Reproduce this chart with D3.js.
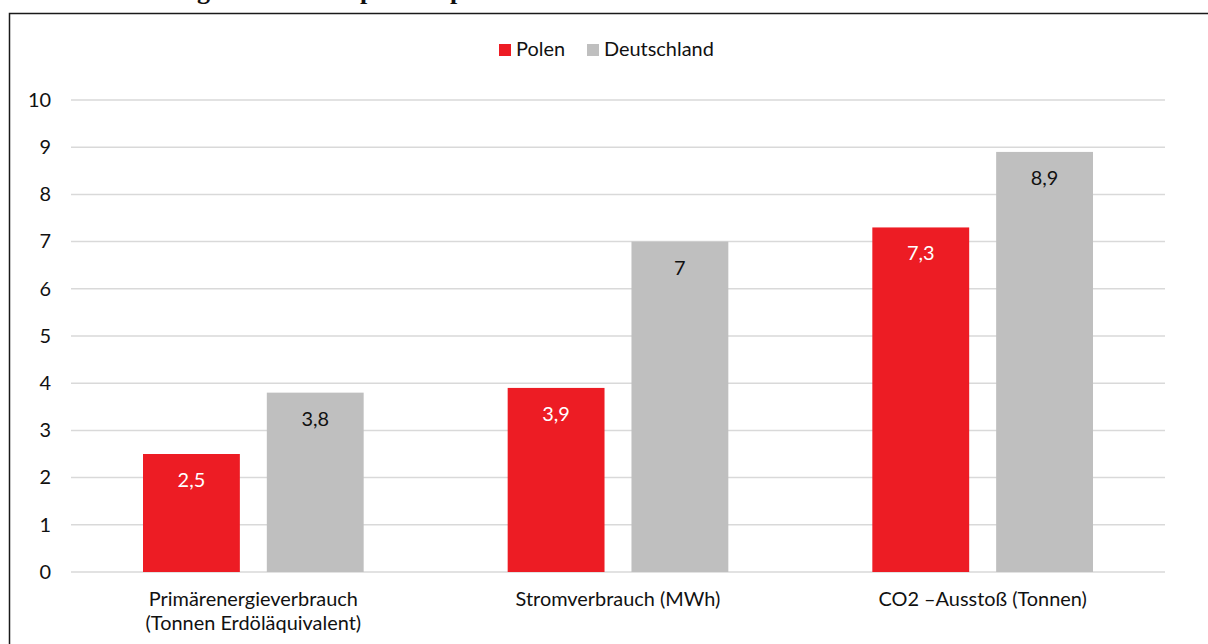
<!DOCTYPE html>
<html><head><meta charset="utf-8">
<script src="https://cdn.jsdelivr.net/npm/d3@7"></script>
<style>html,body{margin:0;padding:0;background:#fff;overflow:hidden}</style>
</head><body>
<svg id="c" width="1208" height="644"></svg>
<script>
const categories = [["Primärenergieverbrauch","(Tonnen Erdöläquivalent)"],["Stromverbrauch (MWh)"],["CO2 \u2013Ausstoß (Tonnen)"]];
const seriesNames = ["Polen","Deutschland"];
const polen = [2.5, 3.9, 7.3];
const deutschland = [3.8, 7, 8.9];
const yTicks = [0,1,2,3,4,5,6,7,8,9,10];
const titleFragments = [{t:"g",x:197},{t:"p",x:360},{t:"p",x:450}];

const colors = ["#ED1C24","#BFBFBF"];
const FONT = "Lato, 'Open Sans', sans-serif";
const svg = d3.select("#c");

// fit font size so category label width matches reference
const probe = svg.append("text").attr("font-family",FONT).attr("font-size",100).text("Stromverbrauch (MWh)");
const fs = 100*205/probe.node().getComputedTextLength();
probe.remove();

// cropped title fragments (the reference shows only the descenders of a title above the frame)
svg.append("g").selectAll("text").data(titleFragments).join("text")
  .attr("x",d=>d.x).attr("y",-1).attr("font-family","'Liberation Serif', serif")
  .attr("font-weight","bold").attr("font-size",26).attr("fill","#111").text(d=>d.t);

// frame
svg.append("rect").attr("x",9.5).attr("y",13.5).attr("width",1250).attr("height",700)
  .attr("fill","none").attr("stroke","#1a1a1a").attr("stroke-width",1.5);

const x0 = d3.scaleBand().domain(d3.range(categories.length)).range([71,1165]).paddingInner(0).paddingOuter(0);
const bw = x0.bandwidth();
const x1 = d3.scaleBand().domain(seriesNames).range([72, bw-72]).paddingInner(27/124).paddingOuter(0);
const y = d3.scaleLinear().domain([0,10]).range([572,100]);

// gridlines
svg.append("g").selectAll("line").data(yTicks).join("line")
  .attr("x1",71).attr("x2",1165).attr("y1",d=>y(d)).attr("y2",d=>y(d))
  .attr("stroke","#D9D9D9").attr("stroke-width",1.5);

// y axis labels
const yAxis = d3.axisLeft(y).tickValues(yTicks).tickSize(0).tickPadding(0).tickFormat(d3.format("d"));
const ya = svg.append("g").attr("transform","translate(51,0)").call(yAxis);
ya.select(".domain").remove();
ya.selectAll("text").attr("font-family",FONT).attr("font-size",fs).attr("fill","#111");

// bars
const data = categories.map((c,i)=>[{s:seriesNames[0],v:polen[i],i},{s:seriesNames[1],v:deutschland[i],i}]);
const groups = svg.append("g").selectAll("g").data(data).join("g")
  .attr("transform",(d,i)=>`translate(${x0(i)},0)`);
groups.selectAll("rect").data(d=>d).join("rect")
  .attr("x",d=>x1(d.s)).attr("width",x1.bandwidth())
  .attr("y",d=>y(d.v)).attr("height",d=>y(0)-y(d.v))
  .attr("fill",(d,j)=>colors[j]);
groups.selectAll("text").data(d=>d).join("text")
  .attr("x",d=>x1(d.s)+x1.bandwidth()/2).attr("y",d=>y(d.v)+25)
  .attr("text-anchor","middle").attr("dominant-baseline","central")
  .attr("font-family",FONT).attr("font-size",fs)
  .attr("fill",(d,j)=>j===0?"#fff":"#111")
  .text(d=>String(d.v).replace(".",","));

// category labels
const cl = svg.append("g").selectAll("text").data(categories).join("text")
  .attr("x",(d,i)=>x0(i)+bw/2).attr("y",606).attr("text-anchor","middle")
  .attr("font-family",FONT).attr("font-size",fs).attr("fill","#111");
cl.selectAll("tspan").data(d=>d).join("tspan")
  .attr("x",function(){return this.parentNode.getAttribute("x");})
  .attr("dy",(d,k)=>k===0?0:24).text(d=>d);

// legend
const lg = svg.append("g");
const lx = [499,587];
seriesNames.forEach((n,k)=>{
  lg.append("rect").attr("x",lx[k]).attr("y",44).attr("width",12).attr("height",12).attr("fill",colors[k]);
  lg.append("text").attr("x",lx[k]+17).attr("y",56).attr("font-family",FONT).attr("font-size",fs).attr("fill","#111").text(n);
});
</script>
</body></html>
